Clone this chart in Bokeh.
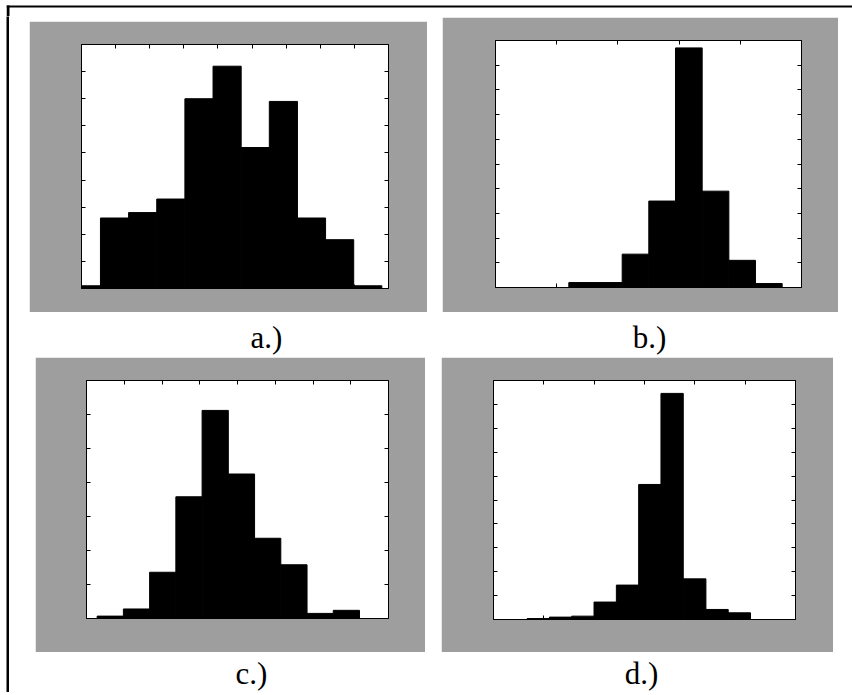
from bokeh.plotting import figure
from bokeh.layouts import row, column
from bokeh.models import Range1d, FixedTicker, LinearAxis
from bokeh.embed import file_html
from bokeh.resources import INLINE
from bokeh.core.properties import value

# Histogram (a): bin edges and counts
a_edges = [-0.268, 0.556, 1.381, 2.206, 3.031, 3.856, 4.681, 5.506, 6.331, 7.155, 7.980, 8.805]
a_counts = [1, 26, 28, 33, 70, 82, 52, 69, 26, 18, 1]

# Histogram (b)
b_edges = [1.198, 1.634, 2.070, 2.505, 2.941, 3.377, 3.813, 4.248, 4.684]
b_counts = [2, 2, 13.5, 35, 97, 39, 11, 1.6]

# Histogram (c)
c_edges = [0.282, 0.977, 1.672, 2.367, 3.062, 3.757, 4.452, 5.147, 5.842, 6.537, 7.231]
c_counts = [0.7, 2.8, 13.6, 35.8, 61.2, 42.5, 23.6, 15.8, 1.5, 2.4]

# Histogram (d)
d_edges = [0.225, 0.668, 1.111, 1.554, 1.997, 2.441, 2.884, 3.327, 3.770, 4.220, 4.663, 5.106]
d_counts = [0.0, 0.4, 1.0, 1.4, 7.3, 14.4, 56.5, 94.6, 17.0, 4.2, 2.8]

# Axis extents: (x end, x tick step, y end, y tick step)
a_axes = (9, 1, 90, 10)
b_axes = (5, 1, 100, 10)
c_axes = (8, 1, 70, 10)
d_axes = (6, 1, 100, 10)

panel_labels = ["a.)", "b.)", "c.)", "d.)"]

GREY = "#9e9e9e"


def tick_list(end, step):
    n = int(round(end / step))
    return [i * step for i in range(n + 1)]


def histogram_panel(edges, counts, axes, frame, borders, margin):
    x_end, x_step, y_end, y_step = axes
    fw, fh = frame
    left, right, top, bottom = borders
    p = figure(frame_width=fw, frame_height=fh,
               x_range=Range1d(0, x_end), y_range=Range1d(0, y_end),
               x_axis_type=None, y_axis_type=None,
               output_backend="svg", toolbar_location=None,
               min_border_left=left, min_border_right=right,
               min_border_top=top, min_border_bottom=bottom,
               border_fill_color=GREY, background_fill_color="white",
               outline_line_color="black", outline_line_width=1,
               margin=margin)
    p.grid.visible = False
    p.quad(left=edges[:-1], right=edges[1:], bottom=0, top=counts,
           fill_color="black", line_color="black", line_width=1)
    xt = tick_list(x_end, x_step)
    yt = tick_list(y_end, y_step)
    for loc, ticks in (("below", xt), ("above", xt), ("left", yt), ("right", yt)):
        ax = LinearAxis(ticker=FixedTicker(ticks=ticks),
                        major_label_overrides={t: "" for t in ticks},
                        major_label_standoff=0,
                        axis_line_color=None,
                        major_tick_in=4, major_tick_out=0,
                        major_tick_line_color="black", major_tick_line_width=1,
                        minor_tick_line_color=None)
        p.add_layout(ax, loc)
    return p


def label_strip(texts, xs, y, width, height):
    p = figure(width=width, height=height,
               x_range=Range1d(0, width), y_range=Range1d(height, 0),
               x_axis_type=None, y_axis_type=None,
               output_backend="svg", toolbar_location=None,
               min_border=0, border_fill_color="white",
               background_fill_color="white", outline_line_color=None)
    p.grid.visible = False
    p.text(x=xs, y=[y] * len(xs), text=texts,
           text_font=value("Liberation Serif"), text_font_size="31px",
           text_align="center", text_baseline="middle", text_color="black")
    return p


def frame_corner(width, height):
    # white strip carrying the upper edge of the enclosing frame
    # and the first stretch of its left edge
    p = figure(width=width, height=height, title=None,
               x_range=Range1d(0, width), y_range=Range1d(height, 0),
               x_axis_type=None, y_axis_type=None,
               output_backend="svg", toolbar_location=None,
               min_border=0, border_fill_color="white",
               background_fill_color="white", outline_line_color=None)
    p.grid.visible = False
    p.quad(left=[0, 0], right=[width, 3], top=[5, 5], bottom=[7, height],
           fill_color="black", line_color=None)
    return p


def side_rule(width, height):
    # solid black strip forming the left edge of the enclosing frame
    p = figure(frame_width=width, frame_height=height, title=None,
               x_axis_type=None, y_axis_type=None,
               output_backend="svg", toolbar_location=None,
               min_border=0, border_fill_color="black",
               background_fill_color="black", outline_line_color=None)
    p.grid.visible = False
    return p


pa = histogram_panel(a_edges, a_counts, a_axes, (307, 244), (52, 39, 22, 25), (5, 0, 0, 20))
pb = histogram_panel(b_edges, b_counts, b_axes, (306, 247), (53, 37, 23, 25), (1, 0, 0, 15))
pc = histogram_panel(c_edges, c_counts, c_axes, (302, 238), (51, 37, 23, 34), (0, 0, 0, 26))
pd = histogram_panel(d_edges, d_counts, d_axes, (302, 239), (52, 38, 22, 34), (0, 0, 0, 16))

top_labels = label_strip(panel_labels[:2], [257, 640], 25, 843, 45)
bottom_labels = label_strip(panel_labels[2:], [242, 632], 21, 843, 40)

content = column(row(pa, pb), top_labels, row(pc, pd), bottom_labels)
layout = column(frame_corner(846, 16), row(side_rule(3, 676), content),
                margin=(0, 0, 0, 6))

open("out.html", "w").write(file_html(layout, INLINE))
